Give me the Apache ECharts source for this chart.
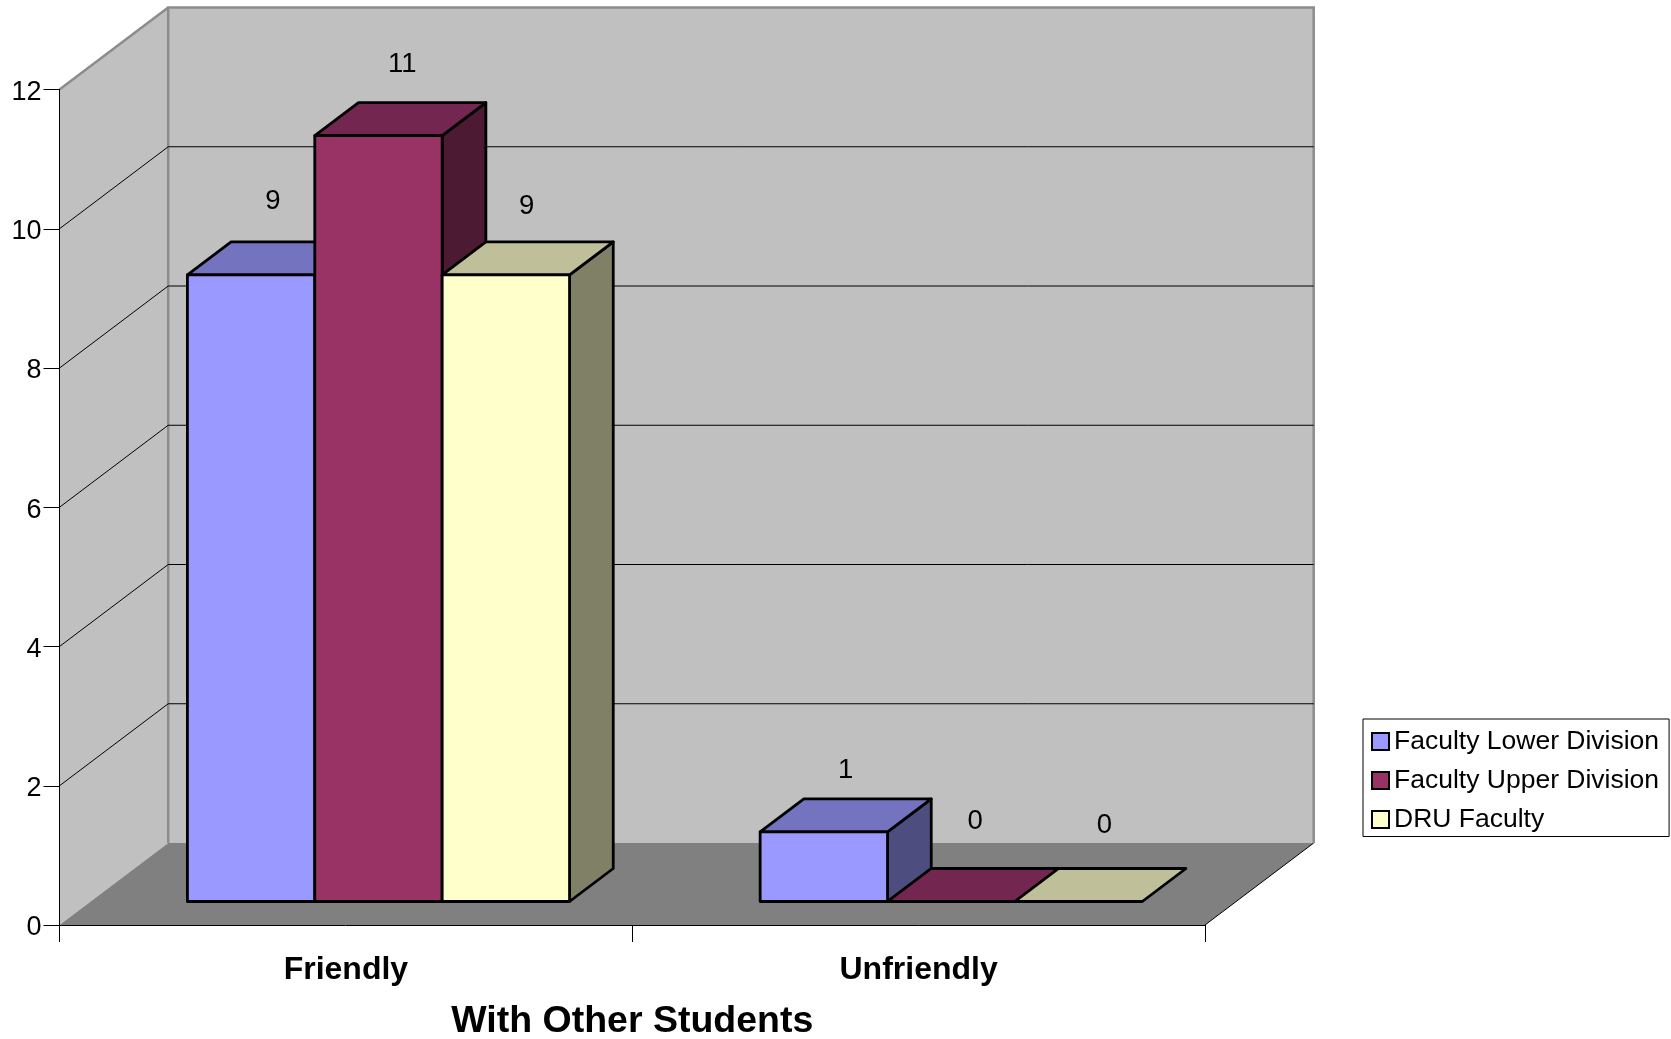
<!DOCTYPE html>
<html>
<head>
<meta charset="utf-8">
<style>html,body{margin:0;padding:0;background:#fff}#c{width:1671px;height:1039px}</style>
<script src="https://cdn.jsdelivr.net/npm/echarts@6/dist/echarts.min.js"></script>
</head>
<body>
<div id="c"></div>
<script>
const categories = ['Friendly', 'Unfriendly'];
const lowerDivision = [9, 1];
const upperDivision = [11, 0];
const druFaculty = [9, 0];
const seriesNames = ['Faculty Lower Division', 'Faculty Upper Division', 'DRU Faculty'];
const yTicks = [0, 2, 4, 6, 8, 10, 12];
const axisTitle = 'With Other Students';

// style / layout constants
const FONT = '"Liberation Sans", Arial, sans-serif';
const WALL_DX = 108.7, WALL_DY = -82;
const BAR_DX = 43.7, BAR_DY = -33;
const SHIFT_X = 32.6, SHIFT_Y = 23.5;
const BAR_FRACTION = 0.2224;
const LABEL_GAPS = [[40.5, 38.3, 35], [28.8, 47, 42.8]];
const LABEL_NUDGE_X = [[0, 2, -1], [0, 2, 4]];
const PALETTE = [
  {front: '#9999ff', top: '#7373bf', side: '#4d4d80'},
  {front: '#993366', top: '#732650', side: '#4d1a33'},
  {front: '#ffffcc', top: '#bfbf99', side: '#808066'}
];

function renderWalls(params, api) {
  const v = api.value(0);
  const l = api.coord([0, v]);
  const bw = api.size([1, 0])[0];
  const x0 = l[0] - bw / 2, x1 = l[0] + bw * 1.5, y = l[1];
  const children = [];
  if (v === 0) {
    const top = api.coord([0, 12])[1];
    children.push({type: 'polygon', shape: {points: [[x0 + WALL_DX, top + WALL_DY], [x1 + WALL_DX, top + WALL_DY], [x1 + WALL_DX, y + WALL_DY], [x0 + WALL_DX, y + WALL_DY]]},
      style: {fill: '#c0c0c0', stroke: null}});
    children.push({type: 'polygon', shape: {points: [[x0, top], [x0 + WALL_DX, top + WALL_DY], [x0 + WALL_DX, y + WALL_DY], [x0, y]]},
      style: {fill: '#c0c0c0', stroke: null}});
    children.push({type: 'polygon', shape: {points: [[x0, y], [x1, y], [x1 + WALL_DX, y + WALL_DY], [x0 + WALL_DX, y + WALL_DY]]},
      style: {fill: '#808080', stroke: null}});
    children.push({type: 'polyline', shape: {points: [[x1, y], [x1 + WALL_DX, y + WALL_DY]]}, style: {stroke: '#000', lineWidth: 1, fill: null}});
    children.push({type: 'polyline', shape: {points: [[x0 + WALL_DX, y + WALL_DY], [x0 + WALL_DX, top + WALL_DY], [x1 + WALL_DX, top + WALL_DY], [x1 + WALL_DX, y + WALL_DY]]},
      style: {stroke: '#8c8c8c', lineWidth: 2.5, fill: null}});
    children.push({type: 'polyline', shape: {points: [[x0, top], [x0 + WALL_DX, top + WALL_DY]]},
      style: {stroke: '#8c8c8c', lineWidth: 2.5, fill: null}});
  } else if (v < 12) {
    children.push({type: 'polyline', shape: {points: [[x0, y], [x0 + WALL_DX, y + WALL_DY], [x1 + WALL_DX, y + WALL_DY]]},
      style: {stroke: '#000', lineWidth: 1, fill: null}});
  }
  return {type: 'group', children};
}

function makeRenderer(idx) {
  return function (params, api) {
    const c = api.value(0), val = api.value(1);
    const cx = api.coord([c, 0])[0];
    const w = api.size([1, 0])[0] * BAR_FRACTION;
    const xl = cx - 1.5 * w + idx * w + SHIFT_X;
    const xr = xl + w;
    const yb = api.coord([c, 0])[1] - SHIFT_Y;
    const yt = api.coord([c, val])[1] - SHIFT_Y;
    const col = PALETTE[idx];
    const st = {stroke: '#000', lineWidth: 2.8, lineJoin: 'round'};
    const kids = [];
    if (val > 0) {
      kids.push({type: 'polygon', shape: {points: [[xr, yb], [xr + BAR_DX, yb + BAR_DY], [xr + BAR_DX, yt + BAR_DY], [xr, yt]]},
        style: Object.assign({fill: col.side}, st)});
    }
    kids.push({type: 'polygon', shape: {points: [[xl, yt], [xr, yt], [xr + BAR_DX, yt + BAR_DY], [xl + BAR_DX, yt + BAR_DY]]},
      style: Object.assign({fill: col.top}, st)});
    if (val > 0) {
      kids.push({type: 'polygon', shape: {points: [[xl, yb], [xr, yb], [xr, yt], [xl, yt]]},
        style: Object.assign({fill: col.front}, st)});
    }
    kids.push({type: 'text', style: {
      text: String(val), x: (xl + xr) / 2 + BAR_DX / 2 + LABEL_NUDGE_X[c][idx],
      y: yt + BAR_DY - LABEL_GAPS[c][idx],
      fill: '#000', font: '27.5px ' + FONT, align: 'center', verticalAlign: 'middle'}});
    return {type: 'group', children: kids};
  };
}

const valueSets = [lowerDivision, upperDivision, druFaculty];
const chart = echarts.init(document.getElementById('c'), null, {renderer: 'canvas'});
chart.setOption({
  animation: false,
  backgroundColor: '#fff',
  textStyle: {fontFamily: FONT},
  grid: {left: 59.5, right: 466, top: 89.5, bottom: 114, containLabel: false, outerBoundsMode: 'none'},
  legend: {
    orient: 'vertical', left: 1363, top: 719,
    padding: [9, 10, 3.5, 8], itemGap: 12, itemWidth: 17, itemHeight: 17,
    backgroundColor: '#fff', borderColor: '#000', borderWidth: 1, borderRadius: 0,
    icon: 'rect', selectedMode: false,
    textStyle: {fontFamily: FONT, fontSize: 26.5, color: '#000'},
    itemStyle: {borderColor: '#000', borderWidth: 2},
    data: seriesNames
  },
  xAxis: {
    type: 'category', data: categories, z: 5,
    axisLine: {lineStyle: {color: '#000', width: 1}},
    axisTick: {show: true, length: 17, lineStyle: {color: '#000', width: 1}},
    axisLabel: {fontFamily: FONT, fontSize: 32, fontWeight: 'bold', color: '#000', margin: 29},
    name: axisTitle, nameLocation: 'middle', nameGap: 78,
    nameTextStyle: {fontFamily: FONT, fontSize: 37.5, fontWeight: 'bold', color: '#000'}
  },
  yAxis: {
    type: 'value', min: 0, max: 12, interval: 2, z: 5,
    splitLine: {show: false},
    axisLine: {show: true, lineStyle: {color: '#000', width: 1}},
    axisTick: {show: true, length: 16, lineStyle: {color: '#000', width: 1}},
    axisLabel: {fontFamily: FONT, fontSize: 27, color: '#000', margin: 18, verticalAlign: 'top', lineHeight: 6}
  },
  series: [
    {type: 'custom', name: 'walls', silent: true, z: 1, renderItem: renderWalls,
      encode: {y: 0}, data: yTicks.map(v => [v])}
  ].concat(seriesNames.map((n, i) => ({
    type: 'custom', name: n, z: 3 + i, renderItem: makeRenderer(i),
    itemStyle: {color: PALETTE[i].front},
    encode: {x: 0, y: 1},
    data: categories.map((_, c) => [c, valueSets[i][c]])
  })))
});
</script>
</body>
</html>
